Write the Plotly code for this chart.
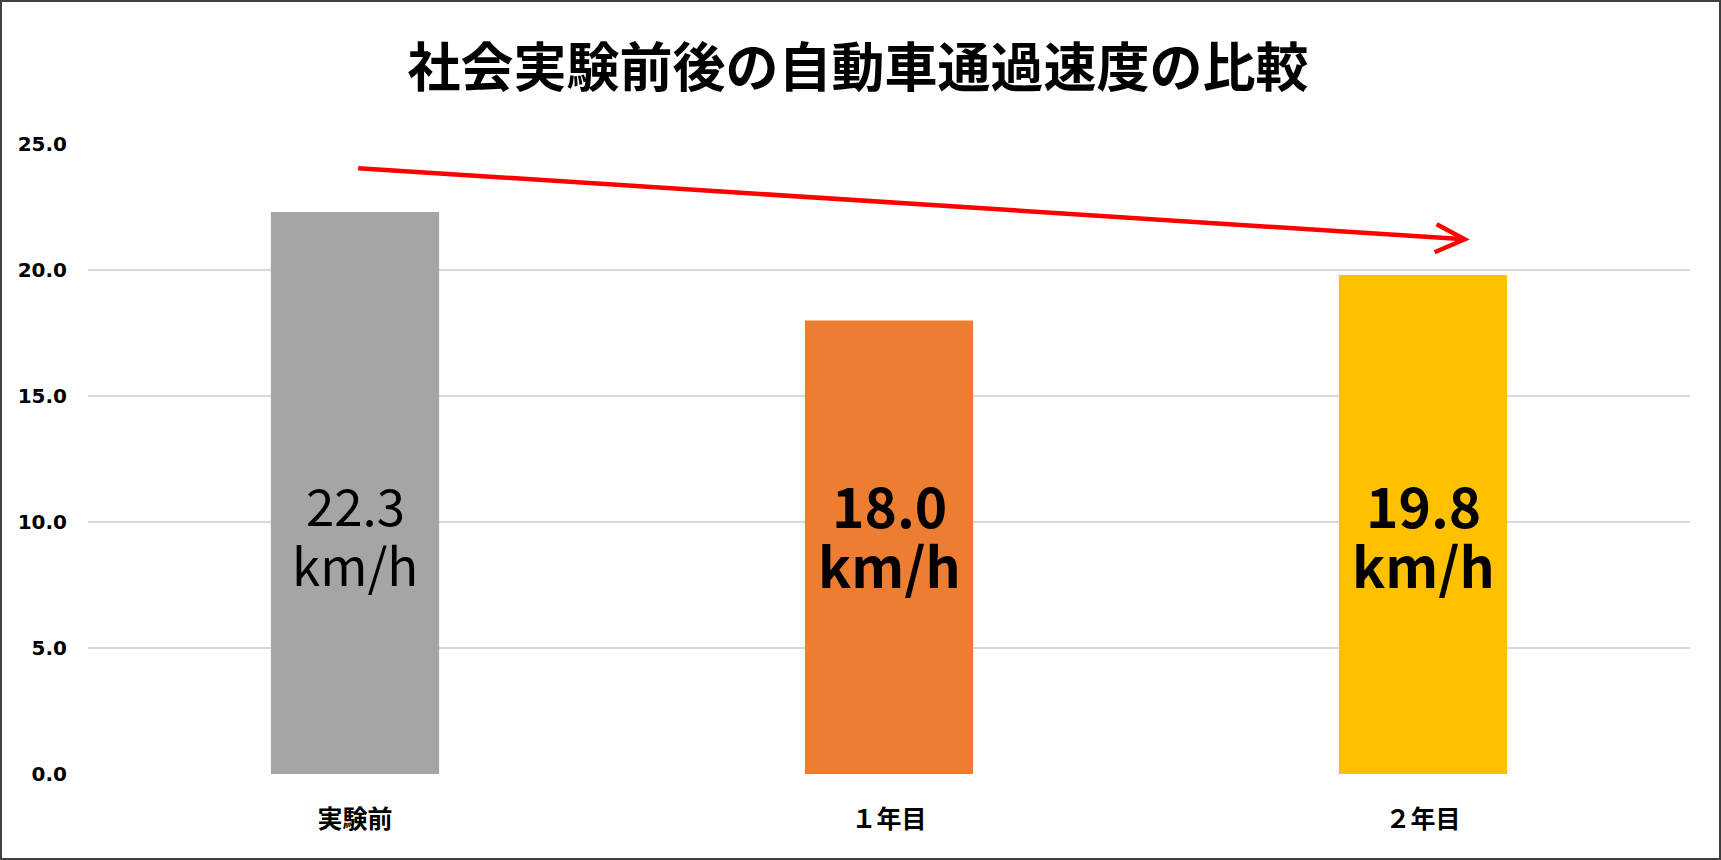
import plotly.graph_objects as go

# Average vehicle speed (km/h) before and after the social experiment
categories = ["実験前", "１年目", "２年目"]
speeds = [22.3, 18.0, 19.8]
bar_colors = ["#A5A5A5", "#ED7D31", "#FFC000"]
label_bold = [False, True, True]
y_ticks = [0, 5, 10, 15, 20, 25]
y_tick_labels = ["0.0", "5.0", "10.0", "15.0", "20.0", "25.0"]

# Trend arrow (category index, km/h)
arrow_start = (0.006, 24.04)
arrow_end = (2.078, 21.22)

W, H = 1721, 860
ML, MR, MT, MB = 88, 31, 144, 86
PW, PH = W - ML - MR, H - MT - MB

LABEL_Y = 9.44  # vertical centre of the in-bar value labels

fig = go.Figure()
fig.add_trace(go.Bar(
    x=categories,
    y=speeds,
    marker=dict(color=bar_colors, line=dict(width=0)),
    width=0.315,
    hoverinfo="skip",
))

# Value labels in the middle of each bar, two lines each
for cat, v, bold in zip(categories, speeds, label_bold):
    lines = [f"{v:.1f}", "km/h"]
    size = 55 if bold else 51
    for txt, shift in zip(lines, [32, -28]):
        fig.add_annotation(
            x=cat, y=LABEL_Y, xref="x", yref="y",
            text=f"<b>{txt}</b>" if bold else txt,
            showarrow=False, yshift=shift,
            font=dict(family="Noto Sans CJK JP", size=size, color="#000000"),
            align="center", yanchor="middle",
        )

# Red trend arrow: shaft plus open chevron head
fig.add_shape(
    type="line", xref="x", yref="y",
    x0=arrow_start[0], y0=arrow_start[1], x1=arrow_end[0], y1=arrow_end[1],
    line=dict(color="#FF0000", width=4.5),
)
fig.add_shape(
    type="path", xref="x", yref="y",
    xsizemode="pixel", ysizemode="pixel",
    xanchor=arrow_end[0], yanchor=arrow_end[1],
    path="M -28,15 L 0,0 L -30,-13",
    line=dict(color="#FF0000", width=4.5),
)

# Outer chart frame
fig.add_shape(
    type="rect", xref="paper", yref="paper",
    x0=(1 - ML) / PW, x1=1 + (MR - 1) / PW,
    y0=-(MB - 1) / PH, y1=1 + (MT - 1) / PH,
    line=dict(color="#404040", width=2),
    fillcolor="rgba(0,0,0,0)",
)

fig.update_layout(
    width=W, height=H,
    margin=dict(l=ML, r=MR, t=MT, b=MB, pad=0),
    paper_bgcolor="#FFFFFF",
    plot_bgcolor="#FFFFFF",
    showlegend=False,
    hovermode=False,
    title=dict(
        text="<b>社会実験前後の自動車通過速度の比較</b>",
        x=858 / W, xref="container", xanchor="center",
        y=1 - 68 / H, yref="container", yanchor="middle",
        font=dict(family="Noto Sans CJK JP", size=53, color="#000000"),
    ),
    xaxis=dict(
        showgrid=False, showline=False, zeroline=False,
        ticks="", ticklabelstandoff=28,
        tickfont=dict(family="Noto Sans CJK JP", size=25, color="#000000", weight="bold"),
    ),
    yaxis=dict(
        range=[0, 25],
        tickvals=y_ticks, ticktext=y_tick_labels,
        showgrid=True, gridcolor="#D9D9D9", gridwidth=1.5,
        zeroline=False, showline=False, ticks="",
        ticklabelstandoff=20,
        tickfont=dict(family="DejaVu Sans", size=20, color="#000000", weight="bold"),
    ),
)

fig.write_html("out.html", config={"displayModeBar": False})
